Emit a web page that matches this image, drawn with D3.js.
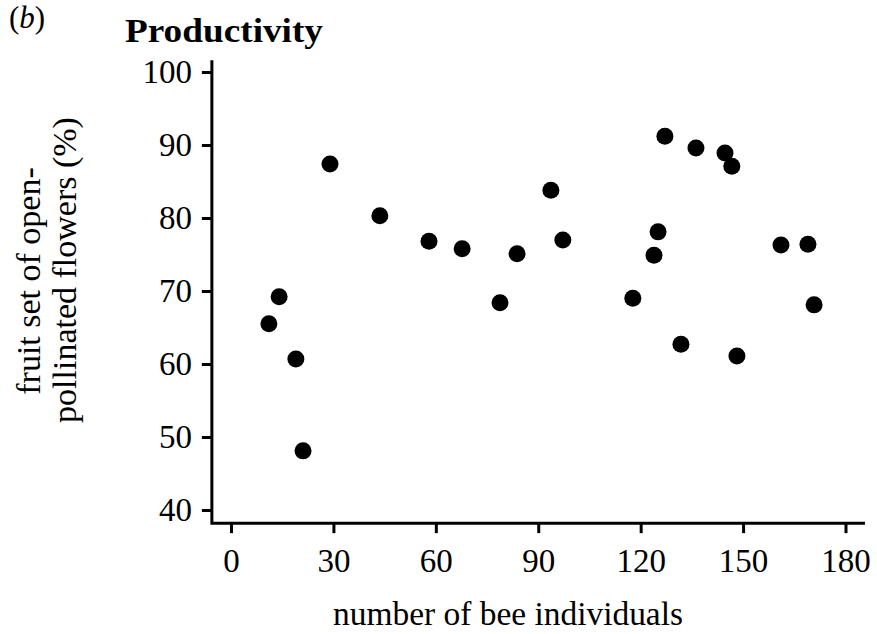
<!DOCTYPE html>
<html>
<head>
<meta charset="utf-8">
<script src="https://cdn.jsdelivr.net/npm/d3@7"></script>
<style>
    body { margin: 0; background: #fff; }
    text { font-family: "Liberation Serif", "Times New Roman", serif; fill: #000; }
</style>
</head>
<body>
<div id="chart"></div>
<script>
// bee individuals vs fruit set (%)
const beeCounts = [11.1, 14.1, 19.0, 21.1, 29.0, 43.6, 58.0, 67.7, 78.8, 83.8, 93.7, 97.2,
    117.7, 123.9, 125.1, 127.1, 131.8, 136.2, 144.7, 146.7, 148.2, 161.1, 169.0, 170.8];
const fruitSet = [65.5, 69.2, 60.7, 48.1, 87.4, 80.3, 76.8, 75.8, 68.4, 75.1, 83.8, 77.0,
    69.0, 74.9, 78.1, 91.2, 62.7, 89.6, 88.9, 87.1, 61.1, 76.3, 76.4, 68.1];
const xTicks = [0, 30, 60, 90, 120, 150, 180];
const yTicks = [40, 50, 60, 70, 80, 90, 100];

function init() {
    const width = 877;
    const height = 634;

    const svg = d3.select("#chart")
        .append("svg")
        .attr("width", width)
        .attr("height", height);

    const x = d3.scaleLinear().domain([0, 180]).range([231, 845.5]);
    const y = d3.scaleLinear().domain([40, 100]).range([510, 72]);

    // axis lines meet in an L at the bottom left
    const xMin = -5.6, xMax = 185.7, yMin = 38.2, yMax = 101.6;
    svg.append("path")
        .attr("d", `M${x(xMin)},${y(yMax)}V${y(yMin)}H${x(xMax)}`)
        .attr("fill", "none")
        .attr("stroke", "#000")
        .attr("stroke-width", 3);

    const xAxis = svg.append("g")
        .attr("transform", `translate(0,${y(yMin)})`)
        .call(d3.axisBottom(x).tickValues(xTicks).tickSize(10).tickSizeOuter(0));

    const yAxis = svg.append("g")
        .attr("transform", `translate(${x(xMin)},0)`)
        .call(d3.axisLeft(y).tickValues(yTicks).tickSize(10).tickSizeOuter(0));

    [xAxis, yAxis].forEach(g => {
        g.select(".domain").remove();
        g.selectAll(".tick line").attr("stroke", "#000").attr("stroke-width", 3);
        g.selectAll(".tick text")
            .style("font-family", '"Liberation Serif", "Times New Roman", serif')
            .style("font-size", "33px")
            .attr("fill", "#000");
    });
    xAxis.selectAll(".tick text").attr("y", 49).attr("dy", 0);
    yAxis.selectAll(".tick text").attr("x", -20).attr("dy", "0.33em");

    // points
    svg.append("g")
        .selectAll("circle")
        .data(beeCounts.map((b, i) => [b, fruitSet[i]]))
        .join("circle")
        .attr("cx", d => x(d[0]))
        .attr("cy", d => y(d[1]))
        .attr("r", 8.5)
        .attr("fill", "#000");

    // labels
    svg.append("text")
        .attr("x", 333)
        .attr("y", 625)
        .attr("textLength", 350)
        .attr("lengthAdjust", "spacingAndGlyphs")
        .style("font-size", "34px")
        .text("number of bee individuals");

    svg.append("text")
        .attr("transform", "translate(40,281) rotate(-90)")
        .attr("text-anchor", "middle")
        .style("font-size", "34px")
        .text("fruit set of open-");

    svg.append("text")
        .attr("transform", "translate(76,270) rotate(-90)")
        .attr("text-anchor", "middle")
        .style("font-size", "34px")
        .text("pollinated flowers (%)");

    svg.append("text")
        .attr("x", 125)
        .attr("y", 42)
        .attr("textLength", 198)
        .attr("lengthAdjust", "spacingAndGlyphs")
        .style("font-size", "34px")
        .style("font-weight", "bold")
        .text("Productivity");

    const tag = svg.append("text")
        .attr("x", 9)
        .attr("y", 28)
        .style("font-size", "31px");
    tag.append("tspan").text("(");
    tag.append("tspan").style("font-style", "italic").text("b");
    tag.append("tspan").text(")");
}

init();
</script>
</body>
</html>
